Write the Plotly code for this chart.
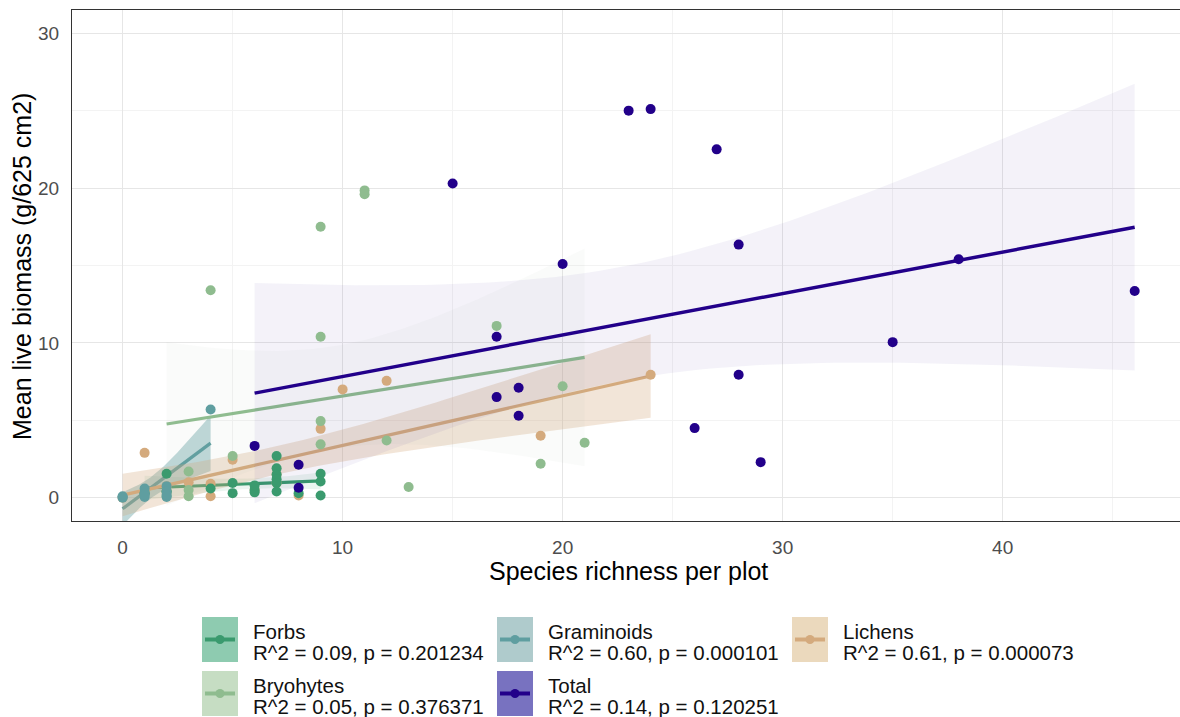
import math
import numpy as np
import plotly.graph_objects as go

# ---------------- data ----------------
groups = ["Forbs", "Graminoids", "Lichens", "Bryohytes", "Total"]
stat_labels = ["R^2 = 0.09, p = 0.201234", "R^2 = 0.60, p = 0.000101",
               "R^2 = 0.61, p = 0.000073", "R^2 = 0.05, p = 0.376371",
               "R^2 = 0.14, p = 0.120251"]

forbs_x = [1, 2, 2, 4, 5, 5, 6, 6, 6, 7, 7, 7, 7, 7, 7, 8, 9, 9, 9]
forbs_y = [0.3, 1.55, 0.4, 0.6, 0.95, 0.3, 0.5, 0.35, 0.8, 2.7, 1.9, 1.5, 1.2, 0.95, 0.4, 0.3, 1.55, 1.05, 0.15]

gram_x = [0, 0, 0, 1, 1, 1, 1, 2, 2, 2, 2, 4]
gram_y = [0.05, 0.0, 0.1, 0.6, 0.3, 0.05, 0.2, 0.75, 0.4, 0.05, 0.2, 5.7]

lich_x = [0, 1, 1, 2, 2, 3, 4, 4, 5, 6, 7, 7, 8, 9, 10, 12, 19, 24]
lich_y = [0.0, 2.9, 0.3, 0.4, 0.75, 1.0, 0.9, 0.1, 2.45, 0.5, 0.95, 1.5, 0.15, 4.45, 7.0, 7.55, 4.0, 7.95]

bryo_x = [2, 2, 3, 3, 3, 4, 5, 9, 9, 9, 9, 11, 11, 12, 13, 17, 19, 20, 21]
bryo_y = [0.1, 0.4, 0.1, 0.5, 1.7, 13.4, 2.7, 17.5, 10.4, 4.95, 3.45, 19.85, 19.6, 3.7, 0.7, 11.1, 2.2, 7.2, 3.55]

total_x = [6, 8, 8, 15, 17, 17, 18, 18, 20, 23, 24, 26, 27, 28, 28, 29, 35, 38, 46]
total_y = [3.35, 2.13, 0.65, 20.3, 10.4, 6.5, 7.1, 5.3, 15.1, 25.0, 25.1, 4.5, 22.5, 16.35, 7.95, 2.3, 10.05, 15.4, 13.35]

x_ticks = [0, 10, 20, 30, 40]
y_ticks = [0, 10, 20, 30]

# ---------------- styles ----------------
colors = {"Forbs": "#3A9A6E", "Graminoids": "#5F9EA0", "Lichens": "#D4AA7D",
          "Bryohytes": "#8FBC8F", "Total": "#22008A"}
ribbon_fill = {"Forbs": "rgba(58,154,110,0.10)", "Graminoids": "rgba(95,158,160,0.40)",
               "Lichens": "rgba(212,170,125,0.30)", "Bryohytes": "rgba(170,175,170,0.055)",
               "Total": "rgba(34,0,138,0.05)"}
key_fill = {"Forbs": "#8ECBB0", "Graminoids": "#AFCBCC", "Lichens": "#EBD9BD",
            "Bryohytes": "#C6DDC3", "Total": "#7872C0"}

data = {"Forbs": (forbs_x, forbs_y), "Graminoids": (gram_x, gram_y),
        "Lichens": (lich_x, lich_y), "Bryohytes": (bryo_x, bryo_y),
        "Total": (total_x, total_y)}

FONT = "Liberation Sans, Arial, sans-serif"
W, H = 1180, 717
ML, MR, MT, MB = 72, 0, 10, 196


def t975(df):
    c = math.gamma((df + 1) / 2) / (math.sqrt(df * math.pi) * math.gamma(df / 2))
    g = np.linspace(0, 8, 80001)
    pdf = c * (1 + g ** 2 / df) ** (-(df + 1) / 2)
    cdf = 0.5 + np.concatenate([[0], np.cumsum((pdf[1:] + pdf[:-1]) / 2 * np.diff(g))])
    return float(g[np.searchsorted(cdf, 0.975)])


def lm_smooth(xv, yv):
    x = np.asarray(xv, float)
    y = np.asarray(yv, float)
    n = len(x)
    b, a = np.polyfit(x, y, 1)
    resid = y - (a + b * x)
    s = math.sqrt(np.sum(resid ** 2) / (n - 2))
    sxx = np.sum((x - x.mean()) ** 2)
    xs = np.linspace(x.min(), x.max(), 80)
    yh = a + b * xs
    se = s * np.sqrt(1 / n + (xs - x.mean()) ** 2 / sxx)
    t = t975(n - 2)
    return xs, yh, yh - t * se, yh + t * se


fig = go.Figure()

# smooths (ribbon + line), in factor order
for g in groups:
    xv, yv = data[g]
    xs, yh, lo, hi = lm_smooth(xv, yv)
    fig.add_trace(go.Scatter(x=np.concatenate([xs, xs[::-1]]),
                             y=np.concatenate([hi, lo[::-1]]),
                             fill="toself", fillcolor=ribbon_fill[g],
                             line=dict(width=0), mode="lines",
                             hoverinfo="skip", showlegend=False))
    fig.add_trace(go.Scatter(x=xs, y=yh, mode="lines",
                             line=dict(color=colors[g], width=3.5 if g == "Total" else 3.2),
                             hoverinfo="skip", showlegend=False))

# points
for g in ["Lichens", "Bryohytes", "Forbs", "Graminoids", "Total"]:
    xv, yv = data[g]
    fig.add_trace(go.Scatter(x=xv, y=yv, mode="markers",
                             marker=dict(color=colors[g], size=10, line=dict(width=0)),
                             name=g, showlegend=False))


# ---------------- manual legend (ggplot-like keys) ----------------
def px2x(px):
    return (px - ML) / (W - ML - MR)


def px2y(py):
    return (H - MB - py) / (H - MT - MB)


shapes = []
annotations = []
col_box_x = [202, 497, 792]
row_box_y = [617, 671]
box_w, box_h = 36, 45
for i, g in enumerate(groups):
    r, c = divmod(i, 3)
    bx, by = col_box_x[c], row_box_y[r]
    shapes.append(dict(type="rect", xref="paper", yref="paper",
                       x0=px2x(bx), x1=px2x(bx + box_w), y0=px2y(by + box_h), y1=px2y(by),
                       fillcolor=key_fill[g], line=dict(width=0), layer="above"))
    cy = by + box_h / 2
    shapes.append(dict(type="line", xref="paper", yref="paper",
                       x0=px2x(bx + 3), x1=px2x(bx + box_w - 3), y0=px2y(cy), y1=px2y(cy),
                       line=dict(color=colors[g], width=4), layer="above"))
    rad = 4.5
    cx = bx + box_w / 2
    shapes.append(dict(type="circle", xref="paper", yref="paper",
                       x0=px2x(cx - rad), x1=px2x(cx + rad), y0=px2y(cy + rad), y1=px2y(cy - rad),
                       fillcolor=colors[g], line=dict(width=0), layer="above"))
    tx = bx + 49
    annotations.append(dict(text=g, x=px2x(tx), y=px2y(by + 14), xref="paper", yref="paper",
                            xanchor="left", yanchor="middle", showarrow=False,
                            font=dict(family=FONT, size=20.5, color="#111111")))
    annotations.append(dict(text=stat_labels[i], x=px2x(tx), y=px2y(by + 35.5),
                            xref="paper", yref="paper", xanchor="left", yanchor="middle",
                            showarrow=False, font=dict(family=FONT, size=20.5, color="#111111")))

# axis titles
annotations.append(dict(text="Species richness per plot", x=px2x(628), y=px2y(571),
                        xref="paper", yref="paper", xanchor="center", yanchor="middle",
                        showarrow=False, font=dict(family=FONT, size=25, color="#000000")))
annotations.append(dict(text="Mean live biomass (g/625 cm2)", x=px2x(22), y=px2y(267),
                        xref="paper", yref="paper", xanchor="center", yanchor="middle",
                        textangle=-90, showarrow=False,
                        font=dict(family=FONT, size=25, color="#000000")))

fig.update_layout(
    width=W, height=H,
    margin=dict(l=ML, r=MR, t=MT, b=MB, pad=0),
    paper_bgcolor="white", plot_bgcolor="white",
    showlegend=False,
    shapes=shapes, annotations=annotations,
    font=dict(family=FONT),
)
fig.update_xaxes(range=[-2.3, 48.06], tickvals=x_ticks, ticktext=[str(v) for v in x_ticks],
                 showgrid=True, gridcolor="#E6E6E6", gridwidth=1.3,
                 minor=dict(tickvals=[5, 15, 25, 35, 45], showgrid=True,
                            gridcolor="#F3F3F3", gridwidth=1),
                 zeroline=False, showline=True, linecolor="#333333", linewidth=1.2,
                 mirror=True, ticks="outside", ticklen=9, tickcolor="rgba(0,0,0,0)",
                 tickfont=dict(family=FONT, size=19, color="#4D4D4D"))
fig.update_yaxes(range=[-1.5, 31.5], tickvals=y_ticks, ticktext=[str(v) for v in y_ticks],
                 showgrid=True, gridcolor="#E6E6E6", gridwidth=1.3,
                 minor=dict(tickvals=[5, 15, 25], showgrid=True,
                            gridcolor="#F3F3F3", gridwidth=1),
                 zeroline=False, showline=True, linecolor="#333333", linewidth=1.2,
                 mirror=False, ticks="outside", ticklen=8, tickcolor="rgba(0,0,0,0)",
                 tickfont=dict(family=FONT, size=19, color="#4D4D4D"))

fig.write_html("out.html")
